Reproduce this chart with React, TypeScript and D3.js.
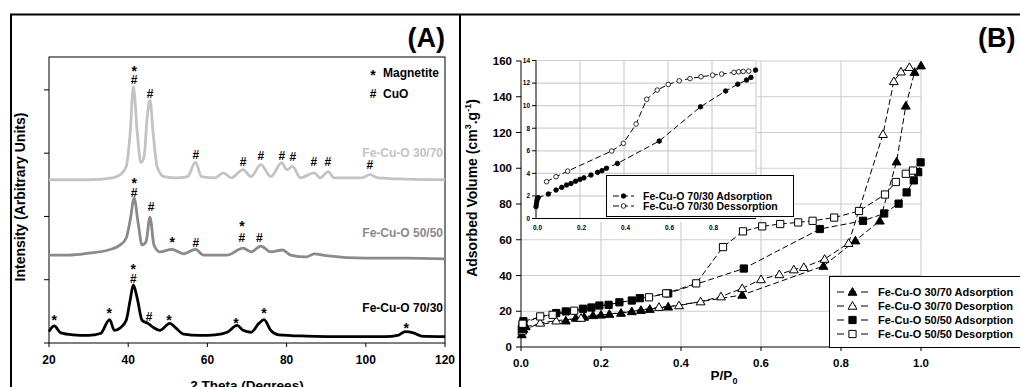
import React from "react";
import * as d3 from "d3";

const FONT = "'Liberation Sans', Arial, Helvetica, sans-serif";

// ---------- Panel A : XRD ----------
const thetaTicks = [20, 40, 60, 80, 100, 120];
const intensityTicks = [0, 1, 2, 3, 4];

const xrd3070: [number, number][] = [
  [20, 2.58], [30, 2.58], [36, 2.61], [38, 2.66], [39.5, 2.79], [40.5, 3.32], [41.3, 4.05], [42.3, 3.32],
  [43.2, 2.85], [44, 2.94], [44.8, 3.57], [45.5, 3.84], [46.3, 3.32], [47.3, 2.79], [49, 2.63], [52, 2.61],
  [55, 2.63], [57, 2.86], [58.5, 2.63], [62, 2.61], [64, 2.69], [66, 2.61], [69, 2.74], [71, 2.63],
  [73.5, 2.82], [76, 2.63], [78.8, 2.85], [80, 2.74], [81.5, 2.79], [83.5, 2.61], [87, 2.69], [88.5, 2.61],
  [90.5, 2.71], [92, 2.61], [99, 2.61], [101, 2.66], [103, 2.61], [110, 2.59], [120, 2.58],
];
const xrd5050: [number, number][] = [
  [20, 1.39], [25, 1.39], [30, 1.42], [35, 1.47], [38, 1.55], [39.5, 1.66], [40.5, 1.94], [41.5, 2.29],
  [42.5, 1.9], [43.5, 1.55], [44.5, 1.6], [45.5, 1.99], [46.5, 1.55], [48, 1.44], [51, 1.48], [54, 1.41],
  [57, 1.48], [59, 1.39], [65, 1.39], [69, 1.5], [71, 1.44], [73.5, 1.53], [76, 1.44], [79, 1.47],
  [81, 1.39], [85, 1.36], [87, 1.41], [90, 1.38], [100, 1.34], [110, 1.34], [120, 1.33],
];
const xrd7030: [number, number][] = [
  [20, 0.18], [21.3, 0.27], [23, 0.16], [26, 0.13], [30, 0.12], [33, 0.15], [35.3, 0.37], [36.5, 0.2],
  [38, 0.24], [39.5, 0.36], [40.5, 0.68], [41.3, 0.92], [42.3, 0.7], [43.5, 0.36], [45, 0.31], [46.5, 0.24],
  [48, 0.2], [50.5, 0.31], [52, 0.24], [54, 0.14], [58, 0.12], [62, 0.13], [65, 0.17], [67.5, 0.28],
  [69, 0.2], [71, 0.17], [73, 0.31], [74.3, 0.37], [76, 0.2], [78, 0.13], [85, 0.11], [95, 0.1],
  [105, 0.1], [108, 0.12], [110, 0.18], [112, 0.16], [114, 0.11], [120, 0.1],
];
const xrdLabels = ["Fe-Cu-O 30/70", "Fe-Cu-O 50/50", "Fe-Cu-O 70/30"];
const xrdColors = ["#c3c3c3", "#8a8a8a", "#000000"];
const xrdLabelLevels = [3.0, 1.74, 0.56];

// peak markers: [2theta, intensity level, symbol]
const marks3070: [number, number, string][] = [
  [41.5, 4.34, "*"], [41.5, 4.16, "#"], [45.5, 3.94, "#"], [57.1, 2.97, "#"], [69, 2.86, "#"],
  [73.5, 2.96, "#"], [78.8, 2.96, "#"], [81.6, 2.95, "#"], [86.9, 2.86, "#"], [90.4, 2.86, "#"], [101, 2.81, "#"],
];
const marks5050: [number, number, string][] = [
  [41.5, 2.57, "*"], [41.5, 2.37, "#"], [45.8, 2.15, "#"], [51.1, 1.64, "*"], [57.1, 1.58, "#"],
  [68.7, 1.89, "*"], [68.7, 1.66, "#"], [73.1, 1.66, "#"],
];
const marks7030: [number, number, string][] = [
  [41.3, 1.21, "*"], [41.3, 1.01, "#"], [21.3, 0.41, "*"], [35.2, 0.51, "*"], [45.3, 0.41, "#"],
  [50.3, 0.41, "*"], [67.2, 0.36, "*"], [74.3, 0.51, "*"], [110.2, 0.28, "*"],
];

// ---------- Panel B : isotherms ----------
const pTicks = [0, 0.2, 0.4, 0.6, 0.8, 1.0];
const volTicks = [0, 20, 40, 60, 80, 100, 120, 140, 160];

const ads3070: [number, number][] = [
  [0.002, 7], [0.006, 10], [0.012, 11.5], [0.112, 14.7], [0.137, 16.2], [0.158, 16.8], [0.18, 17.7],
  [0.2, 18], [0.221, 18.4], [0.25, 19], [0.277, 19.9], [0.3, 20.6], [0.322, 21.2], [0.368, 22.5],
  [0.553, 29.1], [0.756, 45.3], [0.836, 59.5], [0.897, 70.6], [0.939, 103.7], [0.962, 134.9],
  [0.984, 153.8], [1.0, 157.4],
];
const des3070: [number, number][] = [
  [0.003, 9], [0.048, 13.5], [0.088, 14.7], [0.15, 16.2], [0.345, 22.3], [0.395, 23.2], [0.449, 25.4],
  [0.5, 28.2], [0.553, 32.8], [0.6, 37.8], [0.646, 40.6], [0.682, 43.3], [0.707, 44.6], [0.759, 49.2],
  [0.819, 58.1], [0.905, 119], [0.932, 148.6], [0.95, 154], [0.971, 156.5],
];
const ads5050: [number, number][] = [
  [0.002, 10], [0.004, 12.5], [0.006, 14.4], [0.088, 19], [0.112, 19.9], [0.155, 21.4], [0.176, 22.1],
  [0.196, 23.2], [0.219, 23.6], [0.246, 25], [0.277, 26], [0.297, 27.3], [0.368, 30], [0.557, 43.9],
  [0.747, 66], [0.855, 70.6], [0.908, 74.7], [0.944, 80.2], [0.964, 86.5], [0.982, 93.2],
  [0.993, 97.8], [0.999, 103.3],
];
const des5050: [number, number][] = [
  [0.004, 13], [0.048, 17.1], [0.079, 18], [0.133, 20.3], [0.32, 27.8], [0.363, 30], [0.438, 35.6],
  [0.505, 55.9], [0.555, 64.7], [0.603, 67.5], [0.648, 68.8], [0.693, 69.7], [0.729, 70.6],
  [0.783, 72.4], [0.845, 76.1], [0.91, 85.3], [0.937, 92.3], [0.962, 96.9], [0.98, 98.7],
];
const legendB = [
  "Fe-Cu-O 30/70 Adsorption",
  "Fe-Cu-O 30/70 Desorption",
  "Fe-Cu-O 50/50 Adsorption",
  "Fe-Cu-O 50/50 Desorption",
];

// inset (70/30)
const insetXTicks = [0, 0.2, 0.4, 0.6, 0.8];
const insetYTicks = [0, 2, 4, 6, 8, 10, 12, 14];
const ads7030: [number, number][] = [
  [0.0, 1.05], [0.002, 1.3], [0.004, 1.55], [0.006, 1.75], [0.01, 1.85], [0.056, 2.17], [0.091, 2.52],
  [0.117, 2.76], [0.139, 2.97], [0.159, 3.1], [0.18, 3.3], [0.2, 3.47], [0.218, 3.6], [0.25, 3.85],
  [0.28, 4.09], [0.3, 4.24], [0.32, 4.45], [0.37, 4.88], [0.56, 6.86], [0.748, 9.9], [0.862, 11.3],
  [0.917, 11.9], [0.957, 12.27], [0.977, 12.5], [0.998, 13.15],
];
const des7030: [number, number][] = [
  [0.048, 3.26], [0.091, 3.7], [0.144, 4.2], [0.344, 5.98], [0.397, 6.66], [0.455, 8.37],
  [0.503, 10.56], [0.551, 11.38], [0.601, 11.88], [0.651, 12.2], [0.7, 12.4], [0.75, 12.56],
  [0.803, 12.7], [0.844, 12.8], [0.9, 12.95], [0.921, 13.0], [0.942, 13.03], [0.967, 13.06],
];
const legendInset = ["Fe-Cu-O 70/30 Adsorption", "Fe-Cu-O 70/30 Dessorption"];

const triPath = d3.symbol().type(d3.symbolTriangle).size(34)() as string;
const sqPath = d3.symbol().type(d3.symbolSquare).size(52)() as string;

function Marker({ x, y, shape, filled }: { x: number; y: number; shape: string; filled: boolean }) {
  const fill = filled ? "#000" : "#fff";
  if (shape === "circle")
    return <circle cx={x} cy={y} r={2.3} fill={fill} stroke="#000" strokeWidth={0.8} />;
  return (
    <path
      d={shape === "tri" ? triPath : sqPath}
      transform={`translate(${x},${y + (shape === "tri" ? 0.7 : 0)})`}
      fill={fill}
      stroke="#000"
      strokeWidth={1}
    />
  );
}

export default function App() {
  // Panel A scales
  const xA = d3.scaleLinear().domain([20, 120]).range([49, 445]);
  const yA = d3.scaleLinear().domain([0, 4.52]).range([343, 57]);
  const lineA = d3
    .line<[number, number]>()
    .x((d) => xA(d[0]))
    .y((d) => yA(d[1]))
    .curve(d3.curveMonotoneX);
  const xrdSeries = [xrd3070, xrd5050, xrd7030];
  const markSeries = [marks3070, marks5050, marks7030];

  // Panel B scales
  const xB = d3.scaleLinear().domain([0, 1]).range([521, 921]);
  const yB = d3.scaleLinear().domain([0, 160]).range([347, 61]);
  const lineB = d3
    .line<[number, number]>()
    .x((d) => xB(d[0]))
    .y((d) => yB(d[1]));
  const bSeries = [
    { data: ads3070, shape: "tri", filled: true },
    { data: des3070, shape: "tri", filled: false },
    { data: ads5050, shape: "sq", filled: true },
    { data: des5050, shape: "sq", filled: false },
  ];

  // Inset scales
  const xI = d3.scaleLinear().domain([0, 1]).range([536, 756]);
  const yI = d3.scaleLinear().domain([0, 14]).range([218.5, 60.5]);
  const lineI = d3
    .line<[number, number]>()
    .x((d) => xI(d[0]))
    .y((d) => yI(d[1]));
  const iSeries = [
    { data: ads7030, filled: true },
    { data: des7030, filled: false },
  ];

  const grid = "#cfcfcf";

  return (
    <svg
      width={1020}
      height={387}
      style={{ position: "absolute", left: 0, top: 0, fontFamily: FONT }}
      fontFamily={FONT}
    >
      <rect x={0} y={0} width={1020} height={387} fill="#fff" />
      {/* outer frames */}
      <line x1={10} x2={1020} y1={14.5} y2={14.5} stroke="#000" strokeWidth={2} />
      <line x1={11} x2={11} y1={14} y2={387} stroke="#000" strokeWidth={2} />
      <line x1={460} x2={460} y1={14} y2={387} stroke="#000" strokeWidth={2} />

      {/* ================= Panel A ================= */}
      <text x={445} y={47} textAnchor="end" fontWeight="bold" fontSize={27}>(A)</text>
      <rect x={49} y={57} width={396} height={286} fill="none" stroke="#000" strokeWidth={1} />
      {intensityTicks.map((t) => (
        <line key={"ya" + t} x1={44} x2={49} y1={yA(t)} y2={yA(t)} stroke="#000" strokeWidth={1} />
      ))}
      {thetaTicks.map((t) => (
        <g key={"xa" + t}>
          <line x1={xA(t)} x2={xA(t)} y1={343} y2={347} stroke="#000" strokeWidth={1} />
          <text x={xA(t)} y={363.5} textAnchor="middle" fontWeight="bold" fontSize={12}>{t}</text>
        </g>
      ))}
      {xrdSeries.map((s, i) => (
        <path key={"xrd" + i} d={lineA(s) || ""} fill="none" stroke={xrdColors[i]} strokeWidth={2.8} strokeLinejoin="round" />
      ))}
      {markSeries.map((ms, i) =>
        ms.map((m, j) => (
          <text
            key={"m" + i + "-" + j}
            x={xA(m[0])}
            y={yA(m[1]) + (m[2] === "*" ? 7.6 : 4.3)}
            textAnchor="middle"
            fontWeight="bold"
            fontSize={m[2] === "*" ? 14 : 12}
          >
            {m[2]}
          </text>
        ))
      )}
      {xrdLabels.map((l, i) => (
        <text key={l} x={443} y={yA(xrdLabelLevels[i]) + 4.3} textAnchor="end" fontWeight="bold" fontSize={12} fill={xrdColors[i]}>
          {l}
        </text>
      ))}
      <text x={373} y={79.5} textAnchor="middle" fontWeight="bold" fontSize={14}>*</text>
      <text x={383} y={76.5} fontWeight="bold" fontSize={12}>Magnetite</text>
      <text x={373} y={97.5} textAnchor="middle" fontWeight="bold" fontSize={12}>#</text>
      <text x={383} y={97.5} fontWeight="bold" fontSize={12}>CuO</text>
      <text x={247} y={390} textAnchor="middle" fontWeight="bold" fontSize={13.5}>2 Theta (Degrees)</text>
      <text transform="translate(25,197) rotate(-90)" textAnchor="middle" fontWeight="bold" fontSize={14}>
        Intensity (Arbitrary Units)
      </text>

      {/* ================= Panel B ================= */}
      <text x={978} y={47} fontWeight="bold" fontSize={27}>(B)</text>
      {volTicks.filter((v) => v > 0).map((v) => (
        <line key={"gh" + v} x1={xB(0)} x2={xB(1)} y1={yB(v)} y2={yB(v)} stroke={grid} strokeWidth={1.2} />
      ))}
      {pTicks.filter((p) => p > 0).map((p) => (
        <line key={"gv" + p} x1={xB(p)} x2={xB(p)} y1={yB(0)} y2={yB(160)} stroke={grid} strokeWidth={1.2} />
      ))}
      <line x1={xB(0)} x2={xB(0)} y1={yB(0)} y2={yB(160)} stroke="#000" strokeWidth={1} />
      <line x1={xB(0)} x2={xB(1)} y1={yB(0)} y2={yB(0)} stroke="#000" strokeWidth={1} />
      {volTicks.map((v) => (
        <g key={"yb" + v}>
          <line x1={516} x2={521} y1={yB(v)} y2={yB(v)} stroke="#000" strokeWidth={1} />
          <text x={512} y={yB(v) + 4} textAnchor="end" fontWeight="bold" fontSize={11.5}>{v}</text>
        </g>
      ))}
      {pTicks.map((p) => (
        <g key={"xb" + p}>
          <line x1={xB(p)} x2={xB(p)} y1={347} y2={351} stroke="#000" strokeWidth={1} />
          <text x={xB(p)} y={367} textAnchor="middle" fontWeight="bold" fontSize={11.5}>{d3.format(".1f")(p)}</text>
        </g>
      ))}
      {bSeries.map((s, i) => (
        <g key={"bs" + i}>
          <path d={lineB(s.data) || ""} fill="none" stroke="#000" strokeWidth={1} strokeDasharray="6,3" />
          {s.data.map((d, j) => (
            <Marker key={j} x={xB(d[0])} y={yB(d[1])} shape={s.shape} filled={s.filled} />
          ))}
        </g>
      ))}
      <text x={724} y={380} textAnchor="middle" fontWeight="bold" fontSize={13.5}>
        P/P<tspan dy={4} fontSize={9}>0</tspan>
      </text>
      <text transform="translate(477,188) rotate(-90)" textAnchor="middle" fontWeight="bold" fontSize={14}>
        Adsorbed Volume (cm<tspan dy={-6} fontSize={9}>3</tspan>
        <tspan dy={6}>.g</tspan>
        <tspan dy={-6} fontSize={9}>-1</tspan>
        <tspan dy={6}>)</tspan>
      </text>

      {/* main legend */}
      <rect x={829.5} y={276.5} width={200} height={71} fill="#fff" stroke="#000" strokeWidth={1} />
      {legendB.map((l, i) => {
        const y = 292 + i * 14;
        return (
          <g key={l}>
            <line x1={837} x2={868} y1={y} y2={y} stroke="#000" strokeWidth={1} strokeDasharray="7,5" />
            <Marker x={852.5} y={y} shape={bSeries[i].shape} filled={bSeries[i].filled} />
            <text x={878} y={y + 4} fontWeight="bold" fontSize={11}>{l}</text>
          </g>
        );
      })}

      {/* inset */}
      <rect x={522} y={54} width={235} height={168} fill="#fff" />
      {insetYTicks.filter((v) => v > 0).map((v) => (
        <line key={"igh" + v} x1={xI(0)} x2={xI(1)} y1={yI(v)} y2={yI(v)} stroke={grid} strokeWidth={1.2} />
      ))}
      {[0.2, 0.4, 0.6, 0.8, 1.0].map((p) => (
        <line key={"igv" + p} x1={xI(p)} x2={xI(p)} y1={yI(0)} y2={yI(14)} stroke={grid} strokeWidth={1.2} />
      ))}
      <line x1={xI(0)} x2={xI(0)} y1={yI(0)} y2={yI(14)} stroke="#000" strokeWidth={1} />
      <line x1={xI(0)} x2={xI(1)} y1={yI(0)} y2={yI(0)} stroke="#000" strokeWidth={1} />
      {insetYTicks.map((v) => (
        <g key={"iy" + v}>
          <line x1={532} x2={536} y1={yI(v)} y2={yI(v)} stroke="#000" strokeWidth={1} />
          <text x={530} y={yI(v) + 2.3} textAnchor="end" fontWeight="bold" fontSize={6.5}>{v}</text>
        </g>
      ))}
      {insetXTicks.map((p) => (
        <text key={"ix" + p} x={xI(p) + 1.5} y={230} textAnchor="middle" fontWeight="bold" fontSize={6.5}>
          {d3.format(".1f")(p)}
        </text>
      ))}
      {iSeries.map((s, i) => (
        <g key={"is" + i}>
          <path d={lineI(s.data) || ""} fill="none" stroke="#000" strokeWidth={1} strokeDasharray="6,3" />
          {s.data.map((d, j) => (
            <Marker key={j} x={xI(d[0])} y={yI(d[1])} shape="circle" filled={s.filled} />
          ))}
        </g>
      ))}
      <rect x={606.5} y={175.5} width={187} height={41} fill="#fff" stroke="#000" strokeWidth={1} />
      {legendInset.map((l, i) => {
        const y = 196 + i * 10;
        return (
          <g key={l}>
            <line x1={613} x2={634} y1={y} y2={y} stroke="#000" strokeWidth={1} strokeDasharray="6,3" />
            <Marker x={623.5} y={y} shape="circle" filled={i === 0} />
            <text x={643} y={y + 3.7} fontWeight="bold" fontSize={10.5}>{l}</text>
          </g>
        );
      })}
    </svg>
  );
}
